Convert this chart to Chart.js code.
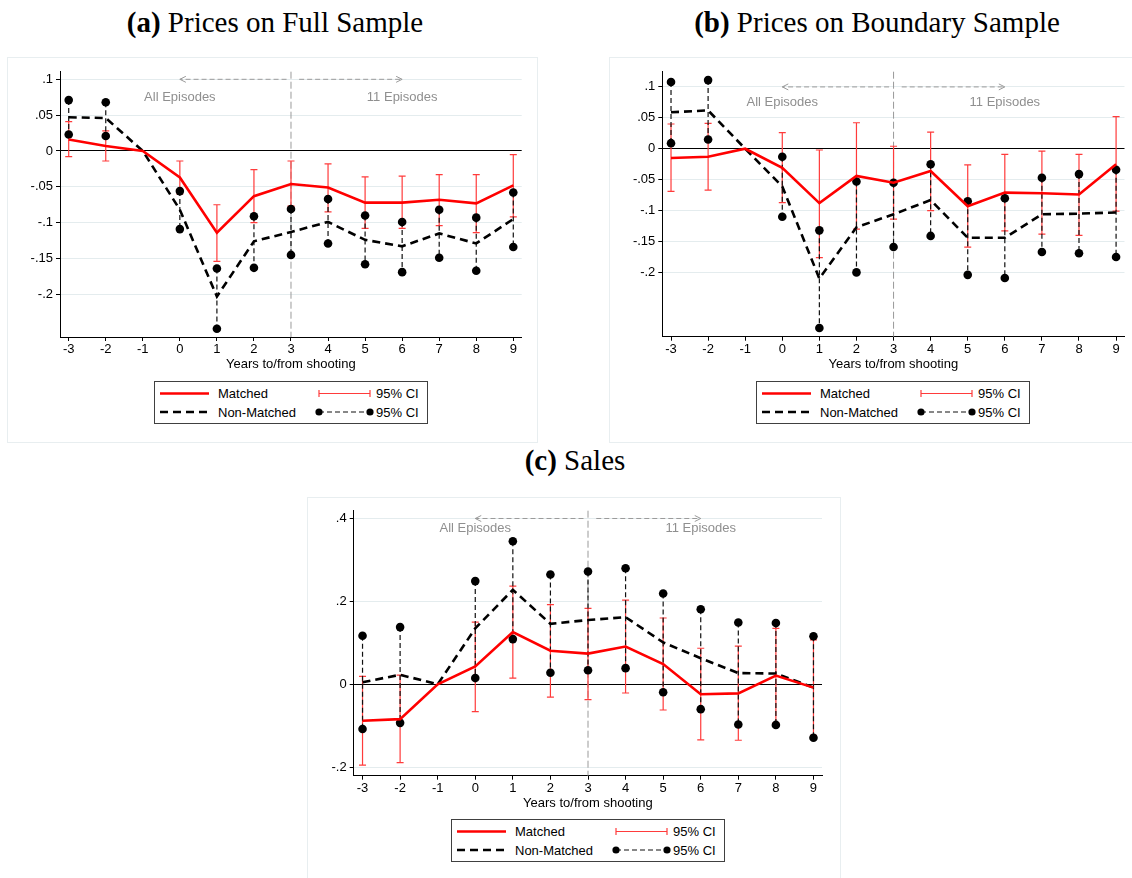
<!DOCTYPE html>
<html>
<head>
<meta charset="utf-8">
<script src="https://cdn.jsdelivr.net/npm/chart.js@4.4.1/dist/chart.umd.min.js"></script>
<style>
  body { margin: 0; background: #fff; width: 1132px; height: 878px; position: relative; overflow: hidden; }
  .frame { position: absolute; border: 1px solid #e8eef0; box-sizing: border-box; }
  .ttl { position: absolute; font-family: "Liberation Serif", "Times New Roman", serif; font-size: 29px; line-height: 29px; white-space: nowrap; transform: translateX(-50%); color: #000; }
  canvas { position: absolute; }
  .leg { position: absolute; font-family: "Liberation Sans", Arial, sans-serif; }
</style>
</head>
<body>
<div class="frame" style="left:7px;top:57px;width:531px;height:386px"></div>
<div class="frame" style="left:609px;top:57px;width:540px;height:386px"></div>
<div class="frame" style="left:307px;top:497px;width:534px;height:400px"></div>

<div class="ttl" style="left:275px;top:8px"><b>(a)</b> Prices on Full Sample</div>
<div class="ttl" style="left:877px;top:8px"><b>(b)</b> Prices on Boundary Sample</div>
<div class="ttl" style="left:575px;top:446px"><b>(c)</b> Sales</div>

<canvas id="chartA" width="545" height="320" style="left:0px;top:57px"></canvas>
<canvas id="chartB" width="532" height="320" style="left:600px;top:57px"></canvas>
<canvas id="chartC" width="545" height="320" style="left:300px;top:497px"></canvas>

<div class="leg" id="legA" style="left:154px;top:381px"></div>
<div class="leg" id="legB" style="left:756px;top:381px"></div>
<div class="leg" id="legC" style="left:451px;top:819px"></div>

<script>
// years relative to the shooting
const years = [-3, -2, -1, 0, 1, 2, 3, 4, 5, 6, 7, 8, 9];
const priceTicks = [0.1, 0.05, 0, -0.05, -0.1, -0.15, -0.2];
const salesTicks = [0.4, 0.2, 0, -0.2];
const splitYear = 3;
const episodeYears = [0, 6];
const episodeLabels = ["All Episodes", "11 Episodes"];

// (a) prices, full sample
const fullMatched   = [0.016, 0.007, 0, -0.037, -0.114, -0.063, -0.046, -0.051, -0.072, -0.072, -0.068, -0.073, -0.048];
const fullMatchedLo = [-0.008, -0.014, null, -0.060, -0.154, -0.100, -0.077, -0.085, -0.108, -0.108, -0.104, -0.114, -0.092];
const fullMatchedHi = [0.041, 0.028, null, -0.014, -0.075, -0.026, -0.014, -0.018, -0.036, -0.035, -0.033, -0.033, -0.005];
const fullNon   = [0.047, 0.046, 0, -0.082, -0.203, -0.126, -0.113, -0.099, -0.124, -0.133, -0.115, -0.129, -0.095];
const fullNonLo = [0.023, 0.021, null, -0.109, -0.248, -0.163, -0.145, -0.129, -0.158, -0.169, -0.149, -0.167, -0.134];
const fullNonHi = [0.071, 0.068, null, -0.056, -0.164, -0.091, -0.081, -0.067, -0.090, -0.099, -0.082, -0.093, -0.058];

// (b) prices, boundary sample
const bndMatched   = [-0.015, -0.013, 0, -0.031, -0.088, -0.044, -0.055, -0.036, -0.093, -0.071, -0.072, -0.074, -0.025];
const bndMatchedLo = [-0.069, -0.067, null, -0.087, -0.176, -0.130, -0.114, -0.100, -0.159, -0.133, -0.138, -0.140, -0.101];
const bndMatchedHi = [0.040, 0.041, null, 0.026, -0.002, 0.042, 0.004, 0.027, -0.026, -0.009, -0.004, -0.009, 0.052];
const bndNon   = [0.059, 0.062, 0, -0.061, -0.210, -0.127, -0.106, -0.083, -0.144, -0.144, -0.106, -0.105, -0.103];
const bndNonLo = [0.009, 0.015, null, -0.110, -0.290, -0.200, -0.159, -0.141, -0.204, -0.209, -0.167, -0.169, -0.175];
const bndNonHi = [0.108, 0.111, null, -0.013, -0.132, -0.053, -0.055, -0.025, -0.085, -0.080, -0.047, -0.041, -0.034];

// (c) sales
const salesMatched   = [-0.088, -0.084, 0, 0.043, 0.126, 0.081, 0.074, 0.091, 0.049, -0.024, -0.022, 0.021, -0.008];
const salesMatchedLo = [-0.195, -0.189, null, -0.066, 0.015, -0.031, -0.037, -0.021, -0.062, -0.134, -0.135, -0.093, -0.123];
const salesMatchedHi = [0.019, 0.022, null, 0.150, 0.237, 0.192, 0.183, 0.203, 0.160, 0.087, 0.092, 0.135, 0.107];
const salesNon   = [0.005, 0.023, 0, 0.135, 0.228, 0.146, 0.155, 0.162, 0.101, 0.063, 0.027, 0.026, -0.008];
const salesNonLo = [-0.108, -0.093, null, 0.015, 0.109, 0.028, 0.034, 0.039, -0.019, -0.060, -0.097, -0.098, -0.129];
const salesNonHi = [0.117, 0.138, null, 0.249, 0.345, 0.265, 0.272, 0.280, 0.219, 0.181, 0.149, 0.148, 0.116];

Chart.defaults.font.family = '"Liberation Sans", Arial, sans-serif';
Chart.defaults.font.size = 13;
Chart.defaults.color = "#000";

function fmt(v) {
  if (v === 0) return "0";
  return (v < 0 ? "-" : "") + String(Math.abs(+v.toFixed(3))).replace(/^0/, "");
}

function pts(vals) {
  return years.map((yr, i) => ({ x: yr, y: vals[i] }));
}

function dots(lo, hi) {
  var out = [];
  for (var i = 0; i < years.length; i++) {
    if (lo[i] !== null) out.push({ x: years[i], y: lo[i] });
    if (hi[i] !== null) out.push({ x: years[i], y: hi[i] });
  }
  return out;
}

function drawArrow(ctx, x1, x2, y) {
  ctx.setLineDash([5, 3]);
  ctx.beginPath(); ctx.moveTo(x1, y); ctx.lineTo(x2, y); ctx.stroke();
  ctx.setLineDash([]);
  var d = x2 > x1 ? -1 : 1;
  ctx.beginPath();
  ctx.moveTo(x2 + d * 6, y - 3); ctx.lineTo(x2, y); ctx.lineTo(x2 + d * 6, y + 3);
  ctx.stroke();
}

// split line, arrows, episode labels and the two kinds of CI
const ciPlugin = {
  id: "ciBars",
  beforeDatasetsDraw(chart, args, opts) {
    const ctx = chart.ctx, a = chart.chartArea, x = chart.scales.x, y = chart.scales.y;
    ctx.save();
    ctx.strokeStyle = "#9a9a9a";
    ctx.lineWidth = 1;
    ctx.setLineDash([7, 3]);
    const xs = x.getPixelForValue(splitYear);
    ctx.beginPath(); ctx.moveTo(xs, a.top); ctx.lineTo(xs, a.bottom); ctx.stroke();

    const ya = y.getPixelForValue(opts.arrowY);
    drawArrow(ctx, x.getPixelForValue(splitYear - 0.12), x.getPixelForValue(episodeYears[0]), ya);
    drawArrow(ctx, x.getPixelForValue(splitYear + 0.22), x.getPixelForValue(episodeYears[1]), ya);

    ctx.fillStyle = "#8f8f8f";
    ctx.font = '13px "Liberation Sans", Arial, sans-serif';
    ctx.textAlign = "center";
    ctx.textBaseline = "middle";
    for (var k = 0; k < 2; k++) {
      ctx.fillText(episodeLabels[k], x.getPixelForValue(episodeYears[k]), y.getPixelForValue(opts.textY));
    }

    // matched CI: red capped bars
    ctx.setLineDash([]);
    ctx.strokeStyle = "#ff3b3b";
    ctx.lineWidth = 1.2;
    for (var i = 0; i < years.length; i++) {
      if (opts.mLo[i] === null) continue;
      var px = x.getPixelForValue(years[i]);
      var p1 = y.getPixelForValue(opts.mLo[i]), p2 = y.getPixelForValue(opts.mHi[i]);
      ctx.beginPath();
      ctx.moveTo(px, p1); ctx.lineTo(px, p2);
      ctx.moveTo(px - 3.5, p1); ctx.lineTo(px + 3.5, p1);
      ctx.moveTo(px - 3.5, p2); ctx.lineTo(px + 3.5, p2);
      ctx.stroke();
    }

    // non-matched CI: dashed black lines (dots are a dataset)
    ctx.strokeStyle = "#111";
    ctx.lineWidth = 1.2;
    ctx.setLineDash([5, 3]);
    for (var j = 0; j < years.length; j++) {
      if (opts.nLo[j] === null) continue;
      var qx = x.getPixelForValue(years[j]);
      ctx.beginPath();
      ctx.moveTo(qx, y.getPixelForValue(opts.nHi[j]));
      ctx.lineTo(qx, y.getPixelForValue(opts.nLo[j]));
      ctx.stroke();
    }
    ctx.restore();
  }
};

function makePanel(id, p) {
  return new Chart(document.getElementById(id), {
    type: "line",
    data: {
      datasets: [
        { label: "Matched", data: pts(p.m), borderColor: "#ff0000", borderWidth: 2.6, pointRadius: 0, tension: 0 },
        { label: "Non-Matched", data: pts(p.n), borderColor: "#000", borderWidth: 2.6, borderDash: [8, 5], pointRadius: 0, tension: 0 },
        { label: "95% CI", data: dots(p.nLo, p.nHi), showLine: false, pointRadius: 4.3, pointBackgroundColor: "#000", pointBorderWidth: 0 }
      ]
    },
    options: {
      responsive: false,
      animation: false,
      layout: { padding: { left: 0, right: p.padRight, top: p.padTop, bottom: 0 } },
      plugins: {
        legend: { display: false },
        tooltip: { enabled: false },
        ciBars: { arrowY: p.arrowY, textY: p.textY, mLo: p.mLo, mHi: p.mHi, nLo: p.nLo, nHi: p.nHi }
      },
      scales: {
        x: {
          type: "linear",
          min: -3.235,
          max: 9.227,
          afterBuildTicks: (s) => { s.ticks = years.map(v => ({ value: v })); },
          afterFit: (s) => { s.height = p.xHeight; },
          grid: { drawOnChartArea: false, tickLength: 4, tickColor: "#000" },
          border: { color: "#000", width: 1 },
          ticks: { padding: 1, maxRotation: 0, autoSkip: false, callback: (v) => String(v) },
          title: { display: true, text: "Years to/from shooting", padding: { top: 0, bottom: p.titlePad }, font: { size: 13 } }
        },
        y: {
          min: p.yMin,
          max: p.yMax,
          afterBuildTicks: (s) => { s.ticks = p.ticks.map(v => ({ value: v })); },
          afterFit: (s) => { s.width = p.yWidth; },
          grid: {
            color: (c) => (c.tick && c.tick.value === 0 ? "#000" : "#e4ecee"),
            tickLength: 4,
            tickColor: "#000"
          },
          border: { color: "#000", width: 1 },
          ticks: { padding: 3, autoSkip: false, callback: (v) => fmt(v) }
        }
      }
    },
    plugins: [ciPlugin]
  });
}

makePanel("chartA", {
  m: fullMatched, mLo: fullMatchedLo, mHi: fullMatchedHi, n: fullNon, nLo: fullNonLo, nHi: fullNonHi,
  ticks: priceTicks, yMin: -0.2595, yMax: 0.1106, arrowY: 0.1, textY: 0.075,
  yWidth: 60, padRight: 23.3, padTop: 14.7, xHeight: 40, titlePad: 4.5
});
makePanel("chartB", {
  m: bndMatched, mLo: bndMatchedLo, mHi: bndMatchedHi, n: bndNon, nLo: bndNonLo, nHi: bndNonHi,
  ticks: priceTicks, yMin: -0.304, yMax: 0.1246, arrowY: 0.1, textY: 0.075,
  yWidth: 62.3, padRight: 7.5, padTop: 14.7, xHeight: 40.3, titlePad: 4.5
});
makePanel("chartC", {
  m: salesMatched, mLo: salesMatchedLo, mHi: salesMatchedHi, n: salesNon, nLo: salesNonLo, nHi: salesNonHi,
  ticks: salesTicks, yMin: -0.2205, yMax: 0.4188, arrowY: 0.4, textY: 0.375,
  yWidth: 53.7, padRight: 23, padTop: 13.7, xHeight: 41.3, titlePad: 5.5
});

function legendSvg() {
  return '<svg width="275" height="44" xmlns="http://www.w3.org/2000/svg" font-family="Liberation Sans, Arial, sans-serif" font-size="13">' +
    '<rect x="0.5" y="0.5" width="273" height="42" fill="#fff" stroke="#404040"/>' +
    '<line x1="6" y1="12.5" x2="55" y2="12.5" stroke="#ff0000" stroke-width="2.6"/>' +
    '<text x="64" y="17">Matched</text>' +
    '<line x1="165" y1="12.5" x2="216" y2="12.5" stroke="#ff3b3b" stroke-width="1.2"/>' +
    '<line x1="165" y1="9" x2="165" y2="16" stroke="#ff3b3b" stroke-width="1.2"/>' +
    '<line x1="216" y1="9" x2="216" y2="16" stroke="#ff3b3b" stroke-width="1.2"/>' +
    '<text x="222" y="17">95% CI</text>' +
    '<line x1="6" y1="31" x2="55" y2="31" stroke="#000" stroke-width="2.6" stroke-dasharray="8,5"/>' +
    '<text x="64" y="35.5">Non-Matched</text>' +
    '<line x1="165" y1="31" x2="216" y2="31" stroke="#111" stroke-width="1.2" stroke-dasharray="5,3"/>' +
    '<circle cx="165" cy="31" r="3.6"/><circle cx="216" cy="31" r="3.6"/>' +
    '<text x="222" y="35.5">95% CI</text>' +
    '</svg>';
}
document.getElementById("legA").innerHTML = legendSvg();
document.getElementById("legB").innerHTML = legendSvg();
document.getElementById("legC").innerHTML = legendSvg();
</script>
</body>
</html>
